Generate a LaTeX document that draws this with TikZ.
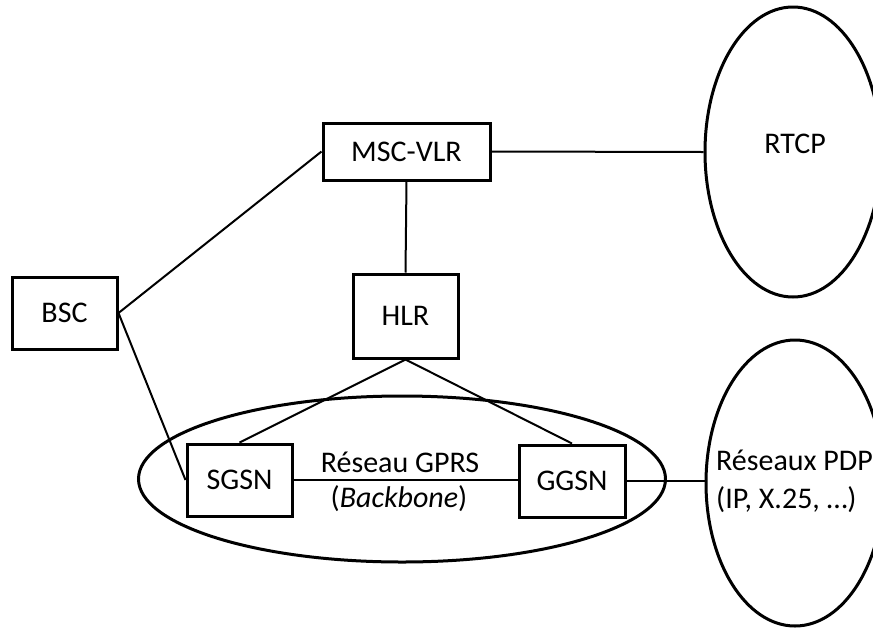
\documentclass[tikz,border=0pt]{standalone}
\usepackage{fontspec}
\setmainfont{Carlito}
\usetikzlibrary{shapes.geometric}
\begin{document}
\begin{tikzpicture}[x=1pt,y=-1pt,
  every node/.style={font=\fontsize{30}{36}\selectfont},
  netbox/.style={draw, line width=3pt, rectangle, inner sep=0pt},
  netcloud/.style={draw, line width=3pt, ellipse, inner sep=0pt},
  link/.style={line width=2pt},
  lbl/.style={inner sep=0pt}]
\useasboundingbox (0,0) rectangle (873,630);
\clip (0,0) rectangle (873,630);
% ellipses
\node[netcloud, minimum width=527pt, minimum height=166pt] (gprs) at (402,479) {};
\node[netcloud, minimum width=176pt, minimum height=290pt] (rtcp) at (793,152) {};
\node[netcloud, minimum width=178pt, minimum height=286pt] (pdp) at (795,483) {};
% boxes
\node[netbox, minimum width=105pt, minimum height=72pt] (bsc) at (64.5,313) {BSC};
\node[netbox, minimum width=167pt, minimum height=57pt] (msc) at (406.5,151.5) {MSC-VLR};
\node[netbox, minimum width=105pt, minimum height=84pt] (hlr) at (405.5,316) {HLR};
\node[netbox, minimum width=105pt, minimum height=72pt] (sgsn) at (239.5,480) {SGSN};
\node[netbox, minimum width=106pt, minimum height=72pt] (ggsn) at (572,481) {GGSN};
% labels
\node[lbl] (rtcplbl) at (795,144) {RTCP};
\node[lbl, anchor=base west] (pdp1) at (716,470) {Réseaux PDP};
\node[lbl, anchor=base west] (pdp2) at (716,508) {(IP, X.25, …)};
\node[lbl, anchor=base] (gprs1) at (400,472) {Réseau GPRS};
\node[lbl, anchor=base] (gprs2) at (399,507) {(\textit{Backbone})};
% connectors
\draw[link] (bsc.east) -- (msc.west);
\draw[link] (bsc.east) -- (sgsn.west);
\draw[link] (msc.east) -- (rtcp.west);
\draw[link] (msc.south) -- (hlr.north);
\draw[link] (hlr.south) -- (sgsn.north);
\draw[link] (hlr.south) -- (ggsn.north);
\draw[link] (sgsn.east) -- (sgsn.east -| ggsn.west);
\draw[link] (ggsn.east) -- (ggsn.east -| pdp.west);
\end{tikzpicture}
\end{document}
